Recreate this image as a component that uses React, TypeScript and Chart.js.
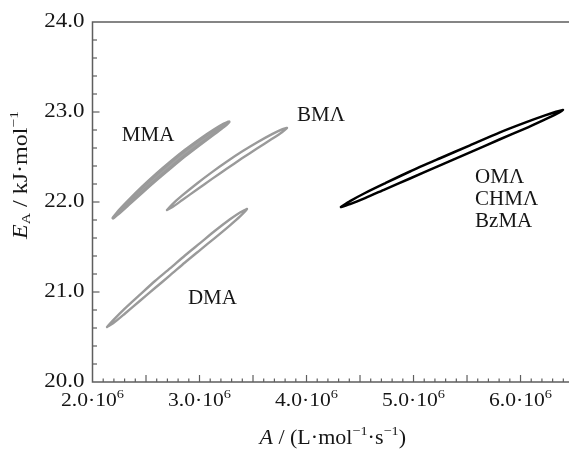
import React, { useEffect, useRef } from "react";
import { Chart, registerables } from "chart.js";

Chart.register(...registerables);

// ---- data (A in units of 10^6 L·mol^-1·s^-1, E_A in kJ·mol^-1) ----
const xTickValues = [2.0, 3.0, 4.0, 5.0, 6.0];
const xTickLabels = ["2.0·10", "3.0·10", "4.0·10", "5.0·10", "6.0·10"];
const xTickExp = "6";
const yTickValues = [20.0, 21.0, 22.0, 23.0, 24.0];
const yTickLabels = ["20.0", "21.0", "22.0", "23.0", "24.0"];

// MMA confidence region outline (closed)
const mmaA = [2.192, 2.238, 2.332, 2.463, 2.603, 2.734, 2.864, 3.005, 3.136, 3.229, 3.276, 3.229, 3.136, 3.005, 2.864, 2.734, 2.603, 2.463, 2.332, 2.238, 2.192];
const mmaE = [21.822, 21.892, 22.01, 22.164, 22.317, 22.45, 22.574, 22.697, 22.801, 22.867, 22.889, 22.839, 22.756, 22.639, 22.51, 22.383, 22.252, 22.106, 21.965, 21.865, 21.822];

// BMA outline
const bmaA = [2.696, 2.743, 2.836, 2.977, 3.117, 3.257, 3.397, 3.537, 3.678, 3.771, 3.818, 3.771, 3.678, 3.537, 3.397, 3.257, 3.117, 2.977, 2.836, 2.743, 2.696];
const bmaE = [21.911, 21.972, 22.07, 22.206, 22.332, 22.45, 22.56, 22.661, 22.754, 22.807, 22.822, 22.776, 22.702, 22.594, 22.485, 22.372, 22.257, 22.139, 22.019, 21.941, 21.911];

// DMA outline
const dmaA = [2.136, 2.192, 2.304, 2.444, 2.584, 2.724, 2.864, 3.005, 3.145, 3.285, 3.379, 3.444, 3.379, 3.285, 3.145, 3.005, 2.864, 2.724, 2.584, 2.444, 2.304, 2.192, 2.136];
const dmaE = [20.611, 20.684, 20.817, 20.97, 21.122, 21.262, 21.406, 21.543, 21.68, 21.808, 21.884, 21.922, 21.84, 21.741, 21.602, 21.466, 21.328, 21.184, 21.044, 20.903, 20.761, 20.651, 20.611];

// OMA / CHMA / BzMA outline
const omaA = [4.322, 4.407, 4.547, 4.734, 4.967, 5.248, 5.528, 5.808, 6.042, 6.229, 6.332, 6.397, 6.332, 6.229, 6.042, 5.808, 5.528, 5.248, 4.967, 4.734, 4.547, 4.407, 4.322];
const omaE = [21.944, 22.01, 22.1, 22.208, 22.339, 22.486, 22.63, 22.774, 22.882, 22.962, 23.002, 23.022, 22.976, 22.918, 22.816, 22.697, 22.552, 22.408, 22.261, 22.141, 22.044, 21.977, 21.944];

// text labels and their anchor positions (data units)
const labelNames = ["MMA", "BMΛ", "DMA", "OMΛ", "CHMΛ", "BzMA"];
const labelA = [2.519, 4.136, 3.121, 5.575, 5.575, 5.575];
const labelE = [22.744, 22.956, 20.933, 22.272, 22.028, 21.783];
const labelAlign = ["center", "center", "center", "left", "left", "left"];

const FONT = "'Liberation Serif', 'Times New Roman', serif";
const AXIS_COLOR = "#5e5e5e";
const TEXT_COLOR = "#161616";

type Seg = { text: string; size: number; italic?: boolean; dy?: number };

function segFont(s: Seg) {
  return `${s.italic ? "italic " : ""}${s.size}px ${FONT}`;
}

function drawRich(ctx: CanvasRenderingContext2D, segs: Seg[], x: number, y: number, align: string, sx = 1) {
  let w = 0;
  for (const s of segs) {
    ctx.font = segFont(s);
    w += ctx.measureText(s.text).width;
  }
  ctx.save();
  ctx.translate(x, y);
  ctx.scale(sx, 1);
  let cx = align === "center" ? -w / 2 : align === "right" ? -w : 0;
  ctx.textAlign = "left";
  ctx.textBaseline = "middle";
  for (const s of segs) {
    ctx.font = segFont(s);
    ctx.fillText(s.text, cx, s.dy || 0);
    cx += ctx.measureText(s.text).width;
  }
  ctx.restore();
}

const pts = (a: number[], e: number[]) => a.map((v, i) => ({ x: v, y: e[i] }));

const axesPlugin = {
  id: "customAxes",
  beforeDatasetsDraw(chart: any) {
    const { ctx, chartArea, scales } = chart;
    const { left, top, right, bottom } = chartArea;
    const xs = scales.x;
    const ys = scales.y;
    ctx.save();
    ctx.strokeStyle = AXIS_COLOR;
    ctx.lineWidth = 1.5;
    ctx.beginPath();
    ctx.moveTo(right, top);
    ctx.lineTo(left, top);
    ctx.lineTo(left, bottom);
    ctx.lineTo(right, bottom);
    ctx.stroke();
    ctx.lineWidth = 1.2;
    // x ticks every 0.1, taller every 0.5
    for (let i = 21; i <= Math.floor(xs.max * 10); i++) {
      const px = xs.getPixelForValue(i / 10);
      const len = i % 5 === 0 ? 7 : 3.5;
      ctx.beginPath();
      ctx.moveTo(px, bottom);
      ctx.lineTo(px, bottom - len);
      ctx.stroke();
    }
    // y ticks every 0.2
    for (let i = 101; i < 120; i++) {
      const py = ys.getPixelForValue(i / 5);
      const len = i % 5 === 0 ? 7 : 4.5;
      ctx.beginPath();
      ctx.moveTo(left, py);
      ctx.lineTo(left + len, py);
      ctx.stroke();
    }
    ctx.restore();
  },
  afterDraw(chart: any) {
    const { ctx, chartArea, scales } = chart;
    const { left, bottom, right } = chartArea;
    const xs = scales.x;
    const ys = scales.y;
    ctx.save();
    ctx.fillStyle = TEXT_COLOR;
    // y tick labels
    yTickValues.forEach((v, i) => {
      drawRich(ctx, [{ text: yTickLabels[i], size: 20 }], left - 8, ys.getPixelForValue(v), "right", 1.15);
    });
    // x tick labels
    xTickValues.forEach((v, i) => {
      drawRich(
        ctx,
        [
          { text: xTickLabels[i], size: 18 },
          { text: xTickExp, size: 12, dy: -6 },
        ],
        xs.getPixelForValue(v),
        bottom + 19,
        "center",
        1.2
      );
    });
    // x axis title
    drawRich(
      ctx,
      [
        { text: "A", size: 20, italic: true },
        { text: " / (L·mol", size: 20 },
        { text: "−1", size: 13, dy: -7 },
        { text: "·s", size: 20 },
        { text: "−1", size: 13, dy: -7 },
        { text: ")", size: 20 },
      ],
      (left + right) / 2 + 2,
      bottom + 57,
      "center",
      1.1
    );
    // y axis title (rotated)
    ctx.save();
    ctx.translate(22, 175);
    ctx.rotate(-Math.PI / 2);
    drawRich(
      ctx,
      [
        { text: "E", size: 20, italic: true },
        { text: "A", size: 13, dy: 5 },
        { text: " / kJ·mol", size: 20 },
        { text: "−1", size: 13, dy: -7 },
      ],
      0,
      0,
      "center",
      1.2
    );
    ctx.restore();
    // series labels
    labelNames.forEach((name, i) => {
      drawRich(ctx, [{ text: name, size: 21 }], xs.getPixelForValue(labelA[i]), ys.getPixelForValue(labelE[i]), labelAlign[i]);
    });
    ctx.restore();
  },
};

export default function App() {
  const canvasRef = useRef<HTMLCanvasElement | null>(null);

  useEffect(() => {
    if (!canvasRef.current) return;
    const gray = "#9a9a9a";
    const chart = new Chart(canvasRef.current, {
      type: "line",
      data: {
        datasets: [
          { label: "MMA", data: pts(mmaA, mmaE), borderColor: gray, borderWidth: 3.2, backgroundColor: "#a2a2a2", fill: "shape" },
          { label: "BMA", data: pts(bmaA, bmaE), borderColor: gray, borderWidth: 2.4, backgroundColor: gray, fill: false },
          { label: "DMA", data: pts(dmaA, dmaE), borderColor: gray, borderWidth: 2.4, backgroundColor: gray, fill: false },
          { label: "OMA/CHMA/BzMA", data: pts(omaA, omaE), borderColor: "#000000", borderWidth: 2.5, backgroundColor: "#000", fill: false },
        ],
      },
      options: {
        animation: false,
        responsive: true,
        maintainAspectRatio: false,
        parsing: false as any,
        layout: { padding: { top: 22, right: 0, left: 0, bottom: 0 } },
        elements: {
          point: { radius: 0, hoverRadius: 0 },
          line: { tension: 0.25, borderCapStyle: "round", borderJoinStyle: "round" },
        },
        plugins: { legend: { display: false }, tooltip: { enabled: false } },
        events: [],
        scales: {
          x: {
            type: "linear",
            min: 2.0,
            max: 6.453,
            grid: { display: false },
            border: { display: false },
            ticks: { display: false },
            afterFit: (s: any) => {
              s.height = 69;
            },
          },
          y: {
            type: "linear",
            min: 20,
            max: 24,
            grid: { display: false },
            border: { display: false },
            ticks: { display: false },
            afterFit: (s: any) => {
              s.width = 92.5;
            },
          },
        },
      },
      plugins: [axesPlugin],
    });
    return () => chart.destroy();
  }, []);

  return (
    <div style={{ position: "absolute", left: 0, top: 0, width: 569, height: 451, background: "#fff" }}>
      <canvas ref={canvasRef} />
    </div>
  );
}
